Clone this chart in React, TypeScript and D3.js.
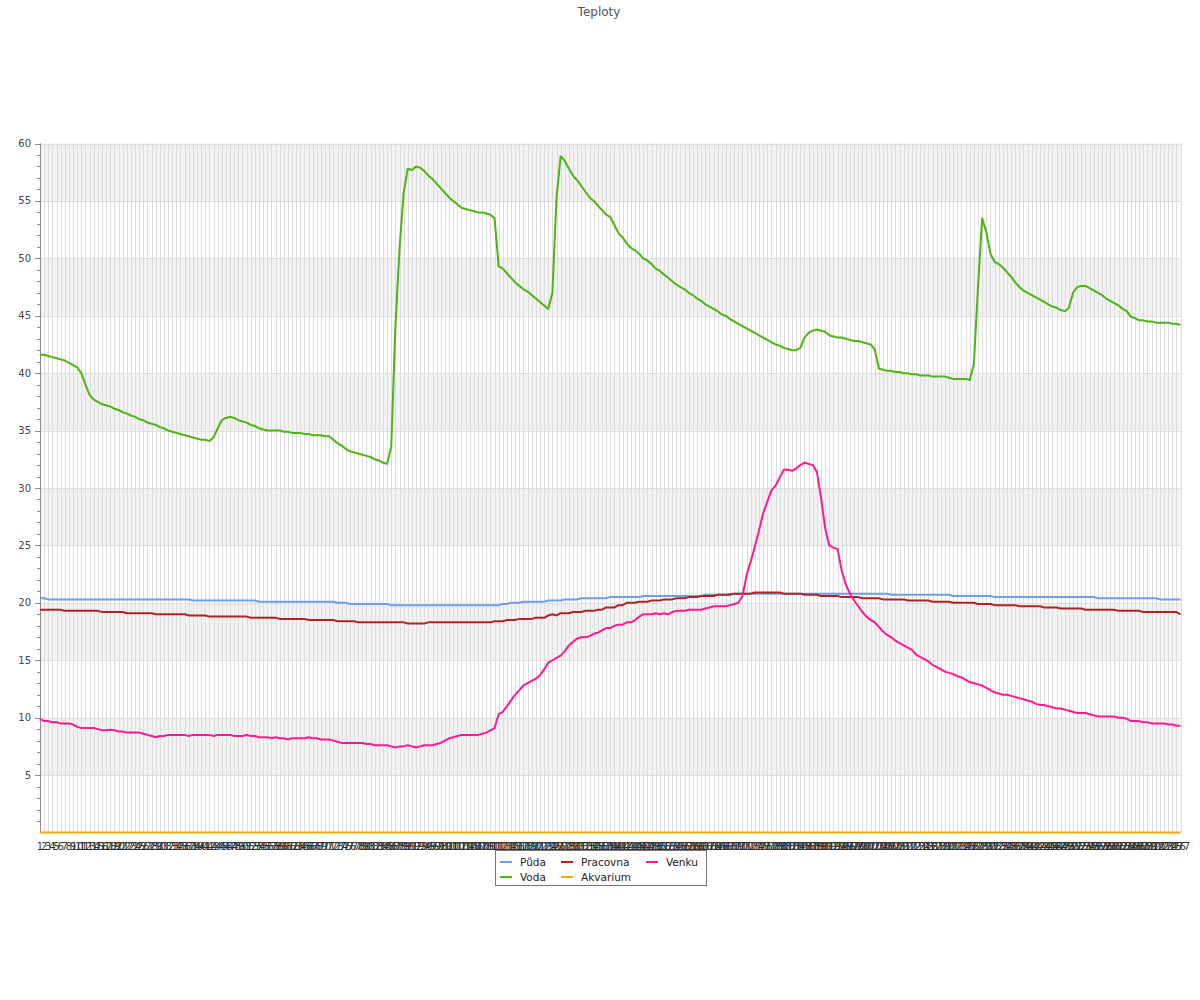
import React from "react";
import * as d3 from "d3";

const N = 277;
const categories: string[] = d3.range(1, N + 1).map(String);
const yTicks = [5, 10, 15, 20, 25, 30, 35, 40, 45, 50, 55, 60];

const puda = [
  20.4,20.4,20.3,20.3,20.3,20.3,20.3,20.3,20.3,20.3,
  20.3,20.3,20.3,20.3,20.3,20.3,20.3,20.3,20.3,20.3,
  20.3,20.3,20.3,20.3,20.3,20.3,20.3,20.3,20.3,20.3,
  20.3,20.3,20.3,20.3,20.3,20.3,20.3,20.2,20.2,20.2,
  20.2,20.2,20.2,20.2,20.2,20.2,20.2,20.2,20.2,20.2,
  20.2,20.2,20.2,20.1,20.1,20.1,20.1,20.1,20.1,20.1,
  20.1,20.1,20.1,20.1,20.1,20.1,20.1,20.1,20.1,20.1,
  20.1,20.1,20.0,20.0,20.0,19.9,19.9,19.9,19.9,19.9,
  19.9,19.9,19.9,19.9,19.9,19.8,19.8,19.8,19.8,19.8,
  19.8,19.8,19.8,19.8,19.8,19.8,19.8,19.8,19.8,19.8,
  19.8,19.8,19.8,19.8,19.8,19.8,19.8,19.8,19.8,19.8,
  19.8,19.8,19.9,19.9,20.0,20.0,20.0,20.1,20.1,20.1,
  20.1,20.1,20.1,20.2,20.2,20.2,20.2,20.3,20.3,20.3,
  20.3,20.4,20.4,20.4,20.4,20.4,20.4,20.4,20.5,20.5,
  20.5,20.5,20.5,20.5,20.5,20.5,20.6,20.6,20.6,20.6,
  20.6,20.6,20.6,20.6,20.6,20.6,20.6,20.6,20.6,20.6,
  20.6,20.7,20.7,20.7,20.7,20.7,20.7,20.8,20.8,20.8,
  20.8,20.8,20.8,20.8,20.8,20.8,20.8,20.8,20.8,20.8,
  20.8,20.8,20.8,20.8,20.8,20.8,20.8,20.8,20.8,20.8,
  20.8,20.8,20.8,20.8,20.8,20.8,20.8,20.8,20.8,20.8,
  20.8,20.8,20.8,20.8,20.8,20.8,20.7,20.7,20.7,20.7,
  20.7,20.7,20.7,20.7,20.7,20.7,20.7,20.7,20.7,20.7,
  20.7,20.6,20.6,20.6,20.6,20.6,20.6,20.6,20.6,20.6,
  20.6,20.5,20.5,20.5,20.5,20.5,20.5,20.5,20.5,20.5,
  20.5,20.5,20.5,20.5,20.5,20.5,20.5,20.5,20.5,20.5,
  20.5,20.5,20.5,20.5,20.5,20.5,20.4,20.4,20.4,20.4,
  20.4,20.4,20.4,20.4,20.4,20.4,20.4,20.4,20.4,20.4,
  20.4,20.3,20.3,20.3,20.3,20.3,20.3
];

const voda = [
  41.6,41.6,41.5,41.4,41.3,41.2,41.1,40.9,40.7,40.5,
  40.0,39.0,38.1,37.7,37.5,37.3,37.2,37.1,36.9,36.8,
  36.6,36.5,36.3,36.2,36.0,35.9,35.7,35.6,35.5,35.3,
  35.2,35.0,34.9,34.8,34.7,34.6,34.5,34.4,34.3,34.2,
  34.2,34.1,34.4,35.2,35.9,36.1,36.2,36.1,35.9,35.8,
  35.7,35.5,35.4,35.2,35.1,35.0,35.0,35.0,35.0,34.9,
  34.9,34.8,34.8,34.8,34.7,34.7,34.6,34.6,34.6,34.5,
  34.5,34.2,33.9,33.7,33.4,33.2,33.1,33.0,32.9,32.8,
  32.7,32.5,32.4,32.2,32.1,33.6,44.0,50.8,55.7,57.8,
  57.7,58.0,57.9,57.6,57.2,56.9,56.5,56.1,55.7,55.3,
  55.0,54.7,54.4,54.3,54.2,54.1,54.0,54.0,53.9,53.8,
  53.5,49.3,49.1,48.7,48.3,47.9,47.6,47.3,47.1,46.8,
  46.5,46.2,45.9,45.6,47.0,55.3,58.9,58.5,57.8,57.2,
  56.8,56.3,55.8,55.3,55.0,54.6,54.2,53.8,53.6,52.9,
  52.2,51.8,51.3,50.9,50.7,50.4,50.0,49.8,49.5,49.1,
  48.9,48.6,48.3,48.0,47.7,47.5,47.3,47.0,46.8,46.5,
  46.3,46.0,45.8,45.6,45.4,45.1,45.0,44.7,44.5,44.3,
  44.1,43.9,43.7,43.5,43.3,43.1,42.9,42.7,42.5,42.4,
  42.2,42.1,42.0,42.0,42.2,43.1,43.5,43.7,43.8,43.7,
  43.6,43.3,43.2,43.1,43.1,43.0,42.9,42.8,42.8,42.7,
  42.6,42.5,42.1,40.4,40.3,40.2,40.2,40.1,40.1,40.0,
  40.0,39.9,39.9,39.8,39.8,39.8,39.7,39.7,39.7,39.7,
  39.6,39.5,39.5,39.5,39.5,39.4,40.8,47.5,53.5,52.3,
  50.4,49.7,49.5,49.2,48.8,48.4,47.9,47.5,47.2,47.0,
  46.8,46.6,46.4,46.2,46.0,45.8,45.7,45.5,45.4,45.7,
  47.0,47.5,47.6,47.6,47.4,47.2,47.0,46.8,46.5,46.3,
  46.1,45.9,45.6,45.4,44.9,44.8,44.6,44.6,44.5,44.5,
  44.4,44.4,44.4,44.4,44.3,44.3,44.2
];

const pracovna = [
  19.4,19.4,19.4,19.4,19.4,19.4,19.3,19.3,19.3,19.3,
  19.3,19.3,19.3,19.3,19.3,19.2,19.2,19.2,19.2,19.2,
  19.2,19.1,19.1,19.1,19.1,19.1,19.1,19.1,19.0,19.0,
  19.0,19.0,19.0,19.0,19.0,19.0,18.9,18.9,18.9,18.9,
  18.9,18.8,18.8,18.8,18.8,18.8,18.8,18.8,18.8,18.8,
  18.8,18.7,18.7,18.7,18.7,18.7,18.7,18.7,18.6,18.6,
  18.6,18.6,18.6,18.6,18.6,18.5,18.5,18.5,18.5,18.5,
  18.5,18.5,18.4,18.4,18.4,18.4,18.4,18.3,18.3,18.3,
  18.3,18.3,18.3,18.3,18.3,18.3,18.3,18.3,18.3,18.2,
  18.2,18.2,18.2,18.2,18.3,18.3,18.3,18.3,18.3,18.3,
  18.3,18.3,18.3,18.3,18.3,18.3,18.3,18.3,18.3,18.3,
  18.4,18.4,18.4,18.5,18.5,18.5,18.6,18.6,18.6,18.6,
  18.7,18.7,18.7,18.9,19.0,18.9,19.1,19.1,19.1,19.2,
  19.2,19.2,19.3,19.3,19.3,19.4,19.4,19.6,19.6,19.6,
  19.8,19.8,20.0,20.0,20.0,20.1,20.1,20.1,20.2,20.2,
  20.2,20.3,20.3,20.3,20.4,20.4,20.4,20.5,20.5,20.5,
  20.6,20.6,20.6,20.6,20.7,20.7,20.7,20.7,20.8,20.8,
  20.8,20.8,20.8,20.9,20.9,20.9,20.9,20.9,20.9,20.9,
  20.8,20.8,20.8,20.8,20.8,20.7,20.7,20.7,20.7,20.6,
  20.6,20.6,20.6,20.6,20.5,20.5,20.5,20.5,20.5,20.4,
  20.4,20.4,20.4,20.4,20.3,20.3,20.3,20.3,20.3,20.3,
  20.2,20.2,20.2,20.2,20.2,20.2,20.1,20.1,20.1,20.1,
  20.1,20.0,20.0,20.0,20.0,20.0,20.0,19.9,19.9,19.9,
  19.9,19.8,19.8,19.8,19.8,19.8,19.8,19.7,19.7,19.7,
  19.7,19.7,19.7,19.6,19.6,19.6,19.6,19.5,19.5,19.5,
  19.5,19.5,19.5,19.4,19.4,19.4,19.4,19.4,19.4,19.4,
  19.4,19.3,19.3,19.3,19.3,19.3,19.3,19.2,19.2,19.2,
  19.2,19.2,19.2,19.2,19.2,19.2,19.0
];

const akvarium = [
  0,0,0,0,0,0,0,0,0,0, 0,0,0,0,0,0,0,0,0,0, 0,0,0,0,0,0,0,0,0,0,
  0,0,0,0,0,0,0,0,0,0, 0,0,0,0,0,0,0,0,0,0, 0,0,0,0,0,0,0,0,0,0,
  0,0,0,0,0,0,0,0,0,0, 0,0,0,0,0,0,0,0,0,0, 0,0,0,0,0,0,0,0,0,0,
  0,0,0,0,0,0,0,0,0,0, 0,0,0,0,0,0,0,0,0,0, 0,0,0,0,0,0,0,0,0,0,
  0,0,0,0,0,0,0,0,0,0, 0,0,0,0,0,0,0,0,0,0, 0,0,0,0,0,0,0,0,0,0,
  0,0,0,0,0,0,0,0,0,0, 0,0,0,0,0,0,0,0,0,0, 0,0,0,0,0,0,0,0,0,0,
  0,0,0,0,0,0,0,0,0,0, 0,0,0,0,0,0,0,0,0,0, 0,0,0,0,0,0,0,0,0,0,
  0,0,0,0,0,0,0,0,0,0, 0,0,0,0,0,0,0,0,0,0, 0,0,0,0,0,0,0,0,0,0,
  0,0,0,0,0,0,0,0,0,0, 0,0,0,0,0,0,0,0,0,0, 0,0,0,0,0,0,0,0,0,0,
  0,0,0,0,0,0,0
];

const venku = [
  9.9,9.7,9.7,9.6,9.6,9.5,9.5,9.5,9.4,9.2,
  9.1,9.1,9.1,9.1,9.0,8.9,8.9,8.95,8.9,8.8,
  8.8,8.7,8.7,8.7,8.7,8.6,8.5,8.4,8.3,8.4,
  8.4,8.5,8.5,8.5,8.5,8.5,8.4,8.5,8.5,8.5,
  8.5,8.5,8.4,8.5,8.5,8.5,8.5,8.4,8.4,8.4,
  8.5,8.4,8.4,8.3,8.3,8.3,8.2,8.3,8.2,8.2,
  8.1,8.2,8.2,8.2,8.2,8.3,8.2,8.2,8.1,8.1,
  8.1,8.0,7.9,7.8,7.8,7.8,7.8,7.8,7.8,7.7,
  7.7,7.6,7.6,7.6,7.6,7.5,7.4,7.5,7.5,7.6,
  7.5,7.4,7.5,7.6,7.6,7.6,7.7,7.8,8.0,8.2,
  8.3,8.4,8.5,8.5,8.5,8.5,8.5,8.6,8.7,8.9,
  9.1,10.3,10.5,11.0,11.5,12.0,12.4,12.8,13.0,13.2,
  13.4,13.7,14.2,14.8,15.0,15.2,15.4,15.8,16.3,16.6,
  16.9,17.0,17.0,17.1,17.3,17.4,17.6,17.8,17.8,18.0,
  18.1,18.1,18.3,18.3,18.5,18.8,19.0,19.0,19.0,19.1,
  19.0,19.1,19.0,19.2,19.3,19.3,19.3,19.4,19.4,19.4,
  19.4,19.5,19.6,19.7,19.7,19.7,19.7,19.8,19.9,20.0,
  20.6,22.4,23.6,24.9,26.3,27.8,28.8,29.8,30.2,30.9,
  31.6,31.6,31.5,31.7,32.0,32.2,32.1,32.0,31.4,29.2,
  26.5,25.0,24.8,24.7,22.8,21.6,20.8,20.2,19.7,19.2,
  18.8,18.5,18.3,17.9,17.5,17.2,17.0,16.7,16.5,16.3,
  16.1,15.9,15.5,15.3,15.1,14.9,14.6,14.4,14.2,14.0,
  13.9,13.8,13.6,13.5,13.3,13.1,13.0,12.9,12.8,12.6,
  12.4,12.2,12.1,12.0,12.0,11.9,11.8,11.7,11.6,11.5,
  11.4,11.2,11.1,11.1,11.0,10.9,10.8,10.8,10.7,10.6,
  10.5,10.4,10.4,10.4,10.3,10.2,10.1,10.1,10.1,10.1,
  10.1,10.0,10.0,9.9,9.7,9.7,9.7,9.6,9.6,9.5,
  9.5,9.5,9.5,9.4,9.4,9.3,9.3
];

const seriesNames = ["Půda", "Voda", "Pracovna", "Akvarium", "Venku"];
const seriesColors = ["#6c9eea", "#4cb511", "#b02323", "#ffa500", "#ff1a93"];
const seriesData = [puda, voda, pracovna, akvarium, venku];

const FONT = "'DejaVu Sans', Verdana, sans-serif";

export default function App() {
  const left = 40, right = 1180.5, top = 143.5, bottom = 832.5;
  const x = d3.scalePoint<string>().domain(categories).range([left, right]);
  const y = d3.scaleLinear().domain([0, 60]).range([bottom, top]);
  const line = d3
    .line<number>()
    .x((_, i) => x(categories[i]) as number)
    .y((d) => y(d));

  const minorTicks = d3.range(1, 60).filter((v) => v % 5 !== 0);
  const bands = yTicks.filter((v) => v % 10 === 0);

  const legendCols = [
    { x: 500, items: [0, 1] },
    { x: 561, items: [2, 3] },
    { x: 646, items: [4] },
  ];

  return (
    <svg
      width={1200}
      height={1000}
      style={{ position: "absolute", left: 0, top: 0, background: "#fff" }}
      fontFamily={FONT}
    >
      <rect x={0} y={0} width={1200} height={1000} fill="#fff" />
      <text x={599} y={16} textAnchor="middle" fontSize={12} fill="#555">
        Teploty
      </text>

      {bands.map((v) => (
        <rect
          key={"b" + v}
          x={left}
          y={y(v)}
          width={right - left}
          height={y(v - 5) - y(v)}
          fill="#f2f2f2"
        />
      ))}

      {categories.map((c) => (
        <line
          key={"vg" + c}
          x1={Math.round(x(c) as number) + 0.5}
          x2={Math.round(x(c) as number) + 0.5}
          y1={top}
          y2={bottom}
          stroke="#dddddd"
          strokeWidth={1}
        />
      ))}

      {yTicks.map((v) => (
        <line
          key={"hg" + v}
          x1={left}
          x2={right}
          y1={Math.round(y(v)) + 0.5}
          y2={Math.round(y(v)) + 0.5}
          stroke="#dddddd"
          strokeWidth={1}
        />
      ))}

      <line x1={left + 0.5} x2={left + 0.5} y1={top} y2={bottom} stroke="#8c8c8c" />
      {yTicks.map((v) => (
        <g key={"yt" + v}>
          <line
            x1={left - 5}
            x2={left}
            y1={Math.round(y(v)) + 0.5}
            y2={Math.round(y(v)) + 0.5}
            stroke="#8c8c8c"
          />
          <text
            x={31}
            y={y(v)}
            dy="0.35em"
            textAnchor="end"
            fontSize={10}
            fill="#444"
          >
            {v}
          </text>
        </g>
      ))}
      {minorTicks.map((v) => (
        <line
          key={"ymt" + v}
          x1={left - 3}
          x2={left}
          y1={Math.round(y(v)) + 0.5}
          y2={Math.round(y(v)) + 0.5}
          stroke="#8c8c8c"
        />
      ))}

      {categories.map((c) => (
        <text
          key={"xl" + c}
          x={x(c) as number}
          y={850}
          textAnchor="middle"
          fontSize={10}
          fill="#333"
        >
          {c}
        </text>
      ))}

      {seriesData.map((data, k) => (
        <path
          key={"s" + k}
          d={line(data) || ""}
          fill="none"
          stroke={seriesColors[k]}
          strokeWidth={2}
          strokeLinejoin="round"
        />
      ))}

      <rect x={495.5} y={850.5} width={211} height={35} fill="#fff" stroke="#777" strokeWidth={1} />
      {legendCols.map((col) =>
        col.items.map((k, r) => (
          <g key={"lg" + k}>
            <line
              x1={col.x}
              x2={col.x + 12}
              y1={862 + r * 15}
              y2={862 + r * 15}
              stroke={seriesColors[k]}
              strokeWidth={2}
            />
            <text x={col.x + 20} y={865.5 + r * 15} fontSize={10.5} fill="#222">
              {seriesNames[k]}
            </text>
          </g>
        ))
      )}
    </svg>
  );
}
